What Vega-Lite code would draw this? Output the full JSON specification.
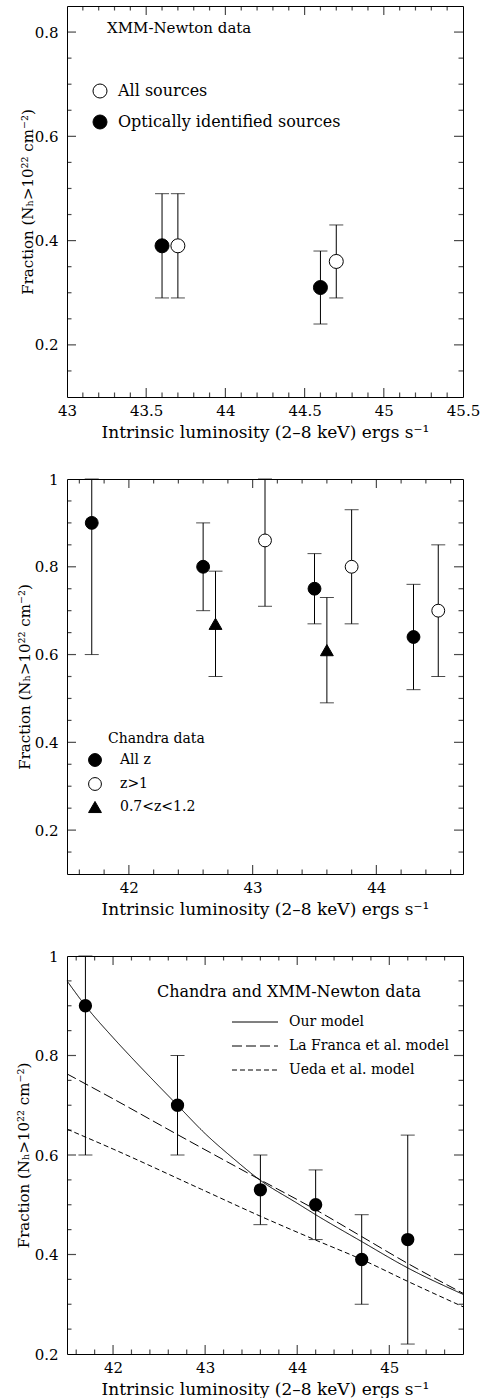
{
  "$schema": "https://vega.github.io/schema/vega-lite/v6.json",
  "padding": {"left": 15, "top": 5, "right": 5, "bottom": 0},
  "config": {
    "font": "DejaVu Serif",
    "view": {"stroke": "black", "strokeWidth": 1},
    "axis": {"domain": false, "ticks": false, "tickSize": 0, "grid": false, "labelColor": "black", "titleColor": "black", "labelFontSize": 15, "titleFontSize": 15, "titleFontWeight": "normal", "labelFlush": false, "labelOverlap": false, "labelBound": false, "format": "~g"},
    "legend": {"labelColor": "black", "padding": 0, "titlePadding": 0, "labelLimit": 400}
  },
  "datasets": {
    "p1": [
      {"L": 43.6, "F": 0.39, "lo": 0.29, "hi": 0.49, "sample": "Optically identified sources"},
      {"L": 44.6, "F": 0.31, "lo": 0.24, "hi": 0.38, "sample": "Optically identified sources"},
      {"L": 43.7, "F": 0.39, "lo": 0.29, "hi": 0.49, "sample": "All sources"},
      {"L": 44.7, "F": 0.36, "lo": 0.29, "hi": 0.43, "sample": "All sources"}
    ],
    "p2": [
      {"L": 41.7, "F": 0.90, "lo": 0.60, "hi": 1.00, "sel": "All z"},
      {"L": 42.6, "F": 0.80, "lo": 0.70, "hi": 0.90, "sel": "All z"},
      {"L": 43.5, "F": 0.75, "lo": 0.67, "hi": 0.83, "sel": "All z"},
      {"L": 44.3, "F": 0.64, "lo": 0.52, "hi": 0.76, "sel": "All z"},
      {"L": 43.1, "F": 0.86, "lo": 0.71, "hi": 1.00, "sel": "z>1"},
      {"L": 43.8, "F": 0.80, "lo": 0.67, "hi": 0.93, "sel": "z>1"},
      {"L": 44.5, "F": 0.70, "lo": 0.55, "hi": 0.85, "sel": "z>1"},
      {"L": 42.7, "F": 0.67, "lo": 0.55, "hi": 0.79, "sel": "0.7<z<1.2"},
      {"L": 43.6, "F": 0.61, "lo": 0.49, "hi": 0.73, "sel": "0.7<z<1.2"}
    ],
    "p3": [
      {"L": 41.7, "F": 0.90, "lo": 0.60, "hi": 1.00},
      {"L": 42.7, "F": 0.70, "lo": 0.60, "hi": 0.80},
      {"L": 43.6, "F": 0.53, "lo": 0.46, "hi": 0.60},
      {"L": 44.2, "F": 0.50, "lo": 0.43, "hi": 0.57},
      {"L": 44.7, "F": 0.39, "lo": 0.30, "hi": 0.48},
      {"L": 45.2, "F": 0.43, "lo": 0.22, "hi": 0.64}
    ],
    "curves": [
      {"L": 41.5, "F": 0.950, "model": "Our model"},
      {"L": 41.7, "F": 0.900, "model": "Our model"},
      {"L": 42.0, "F": 0.836, "model": "Our model"},
      {"L": 42.2, "F": 0.796, "model": "Our model"},
      {"L": 42.5, "F": 0.738, "model": "Our model"},
      {"L": 42.7, "F": 0.700, "model": "Our model"},
      {"L": 43.0, "F": 0.643, "model": "Our model"},
      {"L": 43.3, "F": 0.594, "model": "Our model"},
      {"L": 43.6, "F": 0.549, "model": "Our model"},
      {"L": 44.0, "F": 0.503, "model": "Our model"},
      {"L": 44.2, "F": 0.480, "model": "Our model"},
      {"L": 44.7, "F": 0.426, "model": "Our model"},
      {"L": 45.2, "F": 0.373, "model": "Our model"},
      {"L": 45.8, "F": 0.320, "model": "Our model"},
      {"L": 41.5, "F": 0.763, "model": "La Franca et al. model"},
      {"L": 42.0, "F": 0.713, "model": "La Franca et al. model"},
      {"L": 42.7, "F": 0.641, "model": "La Franca et al. model"},
      {"L": 43.6, "F": 0.550, "model": "La Franca et al. model"},
      {"L": 44.2, "F": 0.490, "model": "La Franca et al. model"},
      {"L": 44.7, "F": 0.436, "model": "La Franca et al. model"},
      {"L": 45.2, "F": 0.382, "model": "La Franca et al. model"},
      {"L": 45.8, "F": 0.322, "model": "La Franca et al. model"},
      {"L": 41.5, "F": 0.652, "model": "Ueda et al. model"},
      {"L": 42.0, "F": 0.612, "model": "Ueda et al. model"},
      {"L": 42.96, "F": 0.531, "model": "Ueda et al. model"},
      {"L": 43.6, "F": 0.477, "model": "Ueda et al. model"},
      {"L": 44.2, "F": 0.429, "model": "Ueda et al. model"},
      {"L": 44.7, "F": 0.390, "model": "Ueda et al. model"},
      {"L": 45.2, "F": 0.346, "model": "Ueda et al. model"},
      {"L": 45.8, "F": 0.295, "model": "Ueda et al. model"}
    ],
    "t1x": [
      {"v": 43.5, "kind": "major"}, {"v": 44, "kind": "major"}, {"v": 44.5, "kind": "major"}, {"v": 45, "kind": "major"},
      {"v": 43.1, "kind": "minor"}, {"v": 43.2, "kind": "minor"}, {"v": 43.3, "kind": "minor"}, {"v": 43.4, "kind": "minor"},
      {"v": 43.6, "kind": "minor"}, {"v": 43.7, "kind": "minor"}, {"v": 43.8, "kind": "minor"}, {"v": 43.9, "kind": "minor"},
      {"v": 44.1, "kind": "minor"}, {"v": 44.2, "kind": "minor"}, {"v": 44.3, "kind": "minor"}, {"v": 44.4, "kind": "minor"},
      {"v": 44.6, "kind": "minor"}, {"v": 44.7, "kind": "minor"}, {"v": 44.8, "kind": "minor"}, {"v": 44.9, "kind": "minor"},
      {"v": 45.1, "kind": "minor"}, {"v": 45.2, "kind": "minor"}, {"v": 45.3, "kind": "minor"}, {"v": 45.4, "kind": "minor"}
    ],
    "t1y": [
      {"v": 0.2, "kind": "major"}, {"v": 0.4, "kind": "major"}, {"v": 0.6, "kind": "major"}, {"v": 0.8, "kind": "major"},
      {"v": 0.15, "kind": "minor"}, {"v": 0.25, "kind": "minor"}, {"v": 0.3, "kind": "minor"}, {"v": 0.35, "kind": "minor"},
      {"v": 0.45, "kind": "minor"}, {"v": 0.5, "kind": "minor"}, {"v": 0.55, "kind": "minor"}, {"v": 0.65, "kind": "minor"},
      {"v": 0.7, "kind": "minor"}, {"v": 0.75, "kind": "minor"}
    ],
    "t2x": [
      {"v": 42, "kind": "major"}, {"v": 43, "kind": "major"}, {"v": 44, "kind": "major"},
      {"v": 41.6, "kind": "minor"}, {"v": 41.8, "kind": "minor"}, {"v": 42.2, "kind": "minor"}, {"v": 42.4, "kind": "minor"},
      {"v": 42.6, "kind": "minor"}, {"v": 42.8, "kind": "minor"}, {"v": 43.2, "kind": "minor"}, {"v": 43.4, "kind": "minor"},
      {"v": 43.6, "kind": "minor"}, {"v": 43.8, "kind": "minor"}, {"v": 44.2, "kind": "minor"}, {"v": 44.4, "kind": "minor"},
      {"v": 44.6, "kind": "minor"}
    ],
    "t2y": [
      {"v": 0.2, "kind": "major"}, {"v": 0.4, "kind": "major"}, {"v": 0.6, "kind": "major"}, {"v": 0.8, "kind": "major"},
      {"v": 0.15, "kind": "minor"}, {"v": 0.25, "kind": "minor"}, {"v": 0.3, "kind": "minor"}, {"v": 0.35, "kind": "minor"},
      {"v": 0.45, "kind": "minor"}, {"v": 0.5, "kind": "minor"}, {"v": 0.55, "kind": "minor"}, {"v": 0.65, "kind": "minor"},
      {"v": 0.7, "kind": "minor"}, {"v": 0.75, "kind": "minor"}, {"v": 0.85, "kind": "minor"}, {"v": 0.9, "kind": "minor"},
      {"v": 0.95, "kind": "minor"}
    ],
    "t3x": [
      {"v": 42, "kind": "major"}, {"v": 43, "kind": "major"}, {"v": 44, "kind": "major"}, {"v": 45, "kind": "major"},
      {"v": 41.6, "kind": "minor"}, {"v": 41.8, "kind": "minor"}, {"v": 42.2, "kind": "minor"}, {"v": 42.4, "kind": "minor"},
      {"v": 42.6, "kind": "minor"}, {"v": 42.8, "kind": "minor"}, {"v": 43.2, "kind": "minor"}, {"v": 43.4, "kind": "minor"},
      {"v": 43.6, "kind": "minor"}, {"v": 43.8, "kind": "minor"}, {"v": 44.2, "kind": "minor"}, {"v": 44.4, "kind": "minor"},
      {"v": 44.6, "kind": "minor"}, {"v": 44.8, "kind": "minor"}, {"v": 45.2, "kind": "minor"}, {"v": 45.4, "kind": "minor"},
      {"v": 45.6, "kind": "minor"}
    ],
    "t3y": [
      {"v": 0.4, "kind": "major"}, {"v": 0.6, "kind": "major"}, {"v": 0.8, "kind": "major"},
      {"v": 0.25, "kind": "minor"}, {"v": 0.3, "kind": "minor"}, {"v": 0.35, "kind": "minor"},
      {"v": 0.45, "kind": "minor"}, {"v": 0.5, "kind": "minor"}, {"v": 0.55, "kind": "minor"}, {"v": 0.65, "kind": "minor"},
      {"v": 0.7, "kind": "minor"}, {"v": 0.75, "kind": "minor"}, {"v": 0.85, "kind": "minor"}, {"v": 0.9, "kind": "minor"},
      {"v": 0.95, "kind": "minor"}
    ]
  },
  "columns": 1,
  "spacing": 30,
  "resolve": {"scale": {"fill": "independent", "shape": "independent", "stroke": "independent", "strokeDash": "independent"}},
  "concat": [
    {
      "width": 396, "height": 391,
      "data": {"name": "p1"},
      "layer": [
        {
          "mark": {"type": "rule", "color": "black", "strokeWidth": 1},
          "encoding": {
            "x": {"field": "L", "type": "quantitative", "scale": {"domain": [43, 45.5], "nice": false, "zero": false},
              "axis": {"orient": "bottom", "title": "Intrinsic luminosity (2–8 keV) ergs s⁻¹", "titleFontSize": 17,
                "values": [43, 43.5, 44, 44.5, 45, 45.5], "labelPadding": 6, "titleY": 40, "titleBaseline": "alphabetic"}},
            "y": {"field": "lo", "type": "quantitative", "scale": {"domain": [0.1, 0.85], "nice": false, "zero": false},
              "axis": {"orient": "left", "title": "Fraction (Nₕ>10²² cm⁻²)",
                "values": [0.2, 0.4, 0.6, 0.8], "labelPadding": 9, "minExtent": 30, "maxExtent": 30, "titlePadding": 2}},
            "y2": {"field": "hi"}
          }
        },
        {
          "mark": {"type": "tick", "orient": "horizontal", "size": 14, "thickness": 1, "color": "black"},
          "encoding": {"x": {"field": "L", "type": "quantitative", "axis": null}, "y": {"field": "lo", "type": "quantitative", "axis": null}}
        },
        {
          "mark": {"type": "tick", "orient": "horizontal", "size": 14, "thickness": 1, "color": "black"},
          "encoding": {"x": {"field": "L", "type": "quantitative", "axis": null}, "y": {"field": "hi", "type": "quantitative", "axis": null}}
        },
        {"data": {"name": "t1x"}, "transform": [{"filter": "datum.kind == 'major'"}], "mark": {"type": "tick", "orient": "vertical", "size": 9, "thickness": 1.2, "color": "black", "yOffset": -4.5},
          "encoding": {"x": {"field": "v", "type": "quantitative", "axis": null}, "y": {"datum": 0.1, "type": "quantitative", "axis": null}}},
        {"data": {"name": "t1x"}, "transform": [{"filter": "datum.kind == 'minor'"}], "mark": {"type": "tick", "orient": "vertical", "size": 4.5, "thickness": 1.2, "color": "black", "yOffset": -2.25},
          "encoding": {"x": {"field": "v", "type": "quantitative", "axis": null}, "y": {"datum": 0.1, "type": "quantitative", "axis": null}}},
        {"data": {"name": "t1x"}, "transform": [{"filter": "datum.kind == 'major'"}], "mark": {"type": "tick", "orient": "vertical", "size": 9, "thickness": 1.2, "color": "black", "yOffset": 4.5},
          "encoding": {"x": {"field": "v", "type": "quantitative", "axis": null}, "y": {"datum": 0.85, "type": "quantitative", "axis": null}}},
        {"data": {"name": "t1x"}, "transform": [{"filter": "datum.kind == 'minor'"}], "mark": {"type": "tick", "orient": "vertical", "size": 4.5, "thickness": 1.2, "color": "black", "yOffset": 2.25},
          "encoding": {"x": {"field": "v", "type": "quantitative", "axis": null}, "y": {"datum": 0.85, "type": "quantitative", "axis": null}}},
        {"data": {"name": "t1y"}, "transform": [{"filter": "datum.kind == 'major'"}], "mark": {"type": "tick", "orient": "horizontal", "size": 9, "thickness": 1.2, "color": "black", "xOffset": 4.5},
          "encoding": {"y": {"field": "v", "type": "quantitative", "axis": null}, "x": {"datum": 43, "type": "quantitative", "axis": null}}},
        {"data": {"name": "t1y"}, "transform": [{"filter": "datum.kind == 'minor'"}], "mark": {"type": "tick", "orient": "horizontal", "size": 4.5, "thickness": 1.2, "color": "black", "xOffset": 2.25},
          "encoding": {"y": {"field": "v", "type": "quantitative", "axis": null}, "x": {"datum": 43, "type": "quantitative", "axis": null}}},
        {"data": {"name": "t1y"}, "transform": [{"filter": "datum.kind == 'major'"}], "mark": {"type": "tick", "orient": "horizontal", "size": 9, "thickness": 1.2, "color": "black", "xOffset": -4.5},
          "encoding": {"y": {"field": "v", "type": "quantitative", "axis": null}, "x": {"datum": 45.5, "type": "quantitative", "axis": null}}},
        {"data": {"name": "t1y"}, "transform": [{"filter": "datum.kind == 'minor'"}], "mark": {"type": "tick", "orient": "horizontal", "size": 4.5, "thickness": 1.2, "color": "black", "xOffset": -2.25},
          "encoding": {"y": {"field": "v", "type": "quantitative", "axis": null}, "x": {"datum": 45.5, "type": "quantitative", "axis": null}}},
        {
          "mark": {"type": "point", "shape": "circle", "filled": true, "size": 196, "stroke": "black", "strokeWidth": 1, "opacity": 1},
          "encoding": {
            "x": {"field": "L", "type": "quantitative", "axis": null},
            "y": {"field": "F", "type": "quantitative", "axis": null},
            "fill": {"field": "sample", "type": "nominal",
              "scale": {"domain": ["All sources", "Optically identified sources"], "range": ["white", "black"]},
              "legend": {"orient": "none", "legendX": 25, "legendY": 77, "title": null, "symbolSize": 196, "symbolType": "circle", "symbolStrokeColor": "black", "symbolStrokeWidth": 1, "labelFontSize": 16, "labelOffset": 10, "rowPadding": 13}}
          }
        },
        {
          "data": {"values": [{"label": "XMM-Newton data"}]},
          "mark": {"type": "text", "align": "left", "baseline": "middle", "fontSize": 15, "color": "black"},
          "encoding": {
            "x": {"datum": 43.2525, "type": "quantitative", "axis": null},
            "y": {"datum": 0.8077, "type": "quantitative", "axis": null},
            "text": {"field": "label"}
          }
        }
      ],
      "resolve": {"axis": {"x": "independent", "y": "independent"}}
    },
    {
      "width": 396, "height": 395,
      "data": {"name": "p2"},
      "layer": [
        {
          "mark": {"type": "rule", "color": "black", "strokeWidth": 1},
          "encoding": {
            "x": {"field": "L", "type": "quantitative", "scale": {"domain": [41.5, 44.7], "nice": false, "zero": false},
              "axis": {"orient": "bottom", "title": "Intrinsic luminosity (2–8 keV) ergs s⁻¹", "titleFontSize": 17,
                "values": [42, 43, 44], "labelPadding": 6, "titleY": 40, "titleBaseline": "alphabetic"}},
            "y": {"field": "lo", "type": "quantitative", "scale": {"domain": [0.1, 1], "nice": false, "zero": false},
              "axis": {"orient": "left", "title": "Fraction (Nₕ>10²² cm⁻²)",
                "values": [0.2, 0.4, 0.6, 0.8, 1], "labelPadding": 9, "minExtent": 33, "maxExtent": 33, "titlePadding": 2}},
            "y2": {"field": "hi"}
          }
        },
        {
          "mark": {"type": "tick", "orient": "horizontal", "size": 14, "thickness": 1, "color": "black"},
          "encoding": {"x": {"field": "L", "type": "quantitative", "axis": null}, "y": {"field": "lo", "type": "quantitative", "axis": null}}
        },
        {
          "mark": {"type": "tick", "orient": "horizontal", "size": 14, "thickness": 1, "color": "black"},
          "encoding": {"x": {"field": "L", "type": "quantitative", "axis": null}, "y": {"field": "hi", "type": "quantitative", "axis": null}}
        },
        {"data": {"name": "t2x"}, "transform": [{"filter": "datum.kind == 'major'"}], "mark": {"type": "tick", "orient": "vertical", "size": 9, "thickness": 1.2, "color": "black", "yOffset": -4.5},
          "encoding": {"x": {"field": "v", "type": "quantitative", "axis": null}, "y": {"datum": 0.1, "type": "quantitative", "axis": null}}},
        {"data": {"name": "t2x"}, "transform": [{"filter": "datum.kind == 'minor'"}], "mark": {"type": "tick", "orient": "vertical", "size": 4.5, "thickness": 1.2, "color": "black", "yOffset": -2.25},
          "encoding": {"x": {"field": "v", "type": "quantitative", "axis": null}, "y": {"datum": 0.1, "type": "quantitative", "axis": null}}},
        {"data": {"name": "t2x"}, "transform": [{"filter": "datum.kind == 'major'"}], "mark": {"type": "tick", "orient": "vertical", "size": 9, "thickness": 1.2, "color": "black", "yOffset": 4.5},
          "encoding": {"x": {"field": "v", "type": "quantitative", "axis": null}, "y": {"datum": 1, "type": "quantitative", "axis": null}}},
        {"data": {"name": "t2x"}, "transform": [{"filter": "datum.kind == 'minor'"}], "mark": {"type": "tick", "orient": "vertical", "size": 4.5, "thickness": 1.2, "color": "black", "yOffset": 2.25},
          "encoding": {"x": {"field": "v", "type": "quantitative", "axis": null}, "y": {"datum": 1, "type": "quantitative", "axis": null}}},
        {"data": {"name": "t2y"}, "transform": [{"filter": "datum.kind == 'major'"}], "mark": {"type": "tick", "orient": "horizontal", "size": 9, "thickness": 1.2, "color": "black", "xOffset": 4.5},
          "encoding": {"y": {"field": "v", "type": "quantitative", "axis": null}, "x": {"datum": 41.5, "type": "quantitative", "axis": null}}},
        {"data": {"name": "t2y"}, "transform": [{"filter": "datum.kind == 'minor'"}], "mark": {"type": "tick", "orient": "horizontal", "size": 4.5, "thickness": 1.2, "color": "black", "xOffset": 2.25},
          "encoding": {"y": {"field": "v", "type": "quantitative", "axis": null}, "x": {"datum": 41.5, "type": "quantitative", "axis": null}}},
        {"data": {"name": "t2y"}, "transform": [{"filter": "datum.kind == 'major'"}], "mark": {"type": "tick", "orient": "horizontal", "size": 9, "thickness": 1.2, "color": "black", "xOffset": -4.5},
          "encoding": {"y": {"field": "v", "type": "quantitative", "axis": null}, "x": {"datum": 44.7, "type": "quantitative", "axis": null}}},
        {"data": {"name": "t2y"}, "transform": [{"filter": "datum.kind == 'minor'"}], "mark": {"type": "tick", "orient": "horizontal", "size": 4.5, "thickness": 1.2, "color": "black", "xOffset": -2.25},
          "encoding": {"y": {"field": "v", "type": "quantitative", "axis": null}, "x": {"datum": 44.7, "type": "quantitative", "axis": null}}},
        {
          "mark": {"type": "point", "filled": true, "size": 165, "strokeWidth": 1, "opacity": 1},
          "encoding": {
            "x": {"field": "L", "type": "quantitative", "axis": null},
            "y": {"field": "F", "type": "quantitative", "axis": null},
            "shape": {"field": "sel", "type": "nominal",
              "scale": {"domain": ["All z", "z>1", "0.7<z<1.2"], "range": ["circle", "circle", "triangle-up"]},
              "legend": {"orient": "none", "legendX": 21, "legendY": 274, "title": null, "symbolSize": 165, "symbolStrokeWidth": 1, "labelFontSize": 14, "labelOffset": 18, "rowPadding": 6}},
            "fill": {"field": "sel", "type": "nominal",
              "scale": {"domain": ["All z", "z>1", "0.7<z<1.2"], "range": ["black", "white", "black"]},
              "legend": {"orient": "none", "legendX": 21, "legendY": 274, "title": null, "symbolSize": 165, "symbolStrokeWidth": 1, "labelFontSize": 14, "labelOffset": 18, "rowPadding": 6}},
            "stroke": {"field": "sel", "type": "nominal",
              "scale": {"domain": ["All z", "z>1", "0.7<z<1.2"], "range": ["black", "black", "black"]},
              "legend": {"orient": "none", "legendX": 21, "legendY": 274, "title": null, "symbolSize": 165, "symbolStrokeWidth": 1, "labelFontSize": 14, "labelOffset": 18, "rowPadding": 6}}
          }
        },
        {
          "data": {"values": [{"label": "Chandra data"}]},
          "mark": {"type": "text", "align": "left", "baseline": "middle", "fontSize": 14, "color": "black"},
          "encoding": {
            "x": {"datum": 41.831, "type": "quantitative", "axis": null},
            "y": {"datum": 0.408, "type": "quantitative", "axis": null},
            "text": {"field": "label"}
          }
        }
      ],
      "resolve": {"axis": {"x": "independent", "y": "independent"}}
    },
    {
      "width": 396, "height": 398,
      "data": {"name": "p3"},
      "layer": [
        {
          "mark": {"type": "rule", "color": "black", "strokeWidth": 1},
          "encoding": {
            "x": {"field": "L", "type": "quantitative", "scale": {"domain": [41.5, 45.8], "nice": false, "zero": false},
              "axis": {"orient": "bottom", "title": "Intrinsic luminosity (2–8 keV) ergs s⁻¹", "titleFontSize": 17,
                "values": [42, 43, 44, 45], "labelPadding": 6, "titleY": 40, "titleBaseline": "alphabetic"}},
            "y": {"field": "lo", "type": "quantitative", "scale": {"domain": [0.2, 1], "nice": false, "zero": false},
              "axis": {"orient": "left", "title": "Fraction (Nₕ>10²² cm⁻²)",
                "values": [0.2, 0.4, 0.6, 0.8, 1], "labelPadding": 9, "minExtent": 34, "maxExtent": 34, "titlePadding": 2}},
            "y2": {"field": "hi"}
          }
        },
        {
          "mark": {"type": "tick", "orient": "horizontal", "size": 14, "thickness": 1, "color": "black"},
          "encoding": {"x": {"field": "L", "type": "quantitative", "axis": null}, "y": {"field": "lo", "type": "quantitative", "axis": null}}
        },
        {
          "mark": {"type": "tick", "orient": "horizontal", "size": 14, "thickness": 1, "color": "black"},
          "encoding": {"x": {"field": "L", "type": "quantitative", "axis": null}, "y": {"field": "hi", "type": "quantitative", "axis": null}}
        },
        {"data": {"name": "t3x"}, "transform": [{"filter": "datum.kind == 'major'"}], "mark": {"type": "tick", "orient": "vertical", "size": 9, "thickness": 1.2, "color": "black", "yOffset": -4.5},
          "encoding": {"x": {"field": "v", "type": "quantitative", "axis": null}, "y": {"datum": 0.2, "type": "quantitative", "axis": null}}},
        {"data": {"name": "t3x"}, "transform": [{"filter": "datum.kind == 'minor'"}], "mark": {"type": "tick", "orient": "vertical", "size": 4.5, "thickness": 1.2, "color": "black", "yOffset": -2.25},
          "encoding": {"x": {"field": "v", "type": "quantitative", "axis": null}, "y": {"datum": 0.2, "type": "quantitative", "axis": null}}},
        {"data": {"name": "t3x"}, "transform": [{"filter": "datum.kind == 'major'"}], "mark": {"type": "tick", "orient": "vertical", "size": 9, "thickness": 1.2, "color": "black", "yOffset": 4.5},
          "encoding": {"x": {"field": "v", "type": "quantitative", "axis": null}, "y": {"datum": 1, "type": "quantitative", "axis": null}}},
        {"data": {"name": "t3x"}, "transform": [{"filter": "datum.kind == 'minor'"}], "mark": {"type": "tick", "orient": "vertical", "size": 4.5, "thickness": 1.2, "color": "black", "yOffset": 2.25},
          "encoding": {"x": {"field": "v", "type": "quantitative", "axis": null}, "y": {"datum": 1, "type": "quantitative", "axis": null}}},
        {"data": {"name": "t3y"}, "transform": [{"filter": "datum.kind == 'major'"}], "mark": {"type": "tick", "orient": "horizontal", "size": 9, "thickness": 1.2, "color": "black", "xOffset": 4.5},
          "encoding": {"y": {"field": "v", "type": "quantitative", "axis": null}, "x": {"datum": 41.5, "type": "quantitative", "axis": null}}},
        {"data": {"name": "t3y"}, "transform": [{"filter": "datum.kind == 'minor'"}], "mark": {"type": "tick", "orient": "horizontal", "size": 4.5, "thickness": 1.2, "color": "black", "xOffset": 2.25},
          "encoding": {"y": {"field": "v", "type": "quantitative", "axis": null}, "x": {"datum": 41.5, "type": "quantitative", "axis": null}}},
        {"data": {"name": "t3y"}, "transform": [{"filter": "datum.kind == 'major'"}], "mark": {"type": "tick", "orient": "horizontal", "size": 9, "thickness": 1.2, "color": "black", "xOffset": -4.5},
          "encoding": {"y": {"field": "v", "type": "quantitative", "axis": null}, "x": {"datum": 45.8, "type": "quantitative", "axis": null}}},
        {"data": {"name": "t3y"}, "transform": [{"filter": "datum.kind == 'minor'"}], "mark": {"type": "tick", "orient": "horizontal", "size": 4.5, "thickness": 1.2, "color": "black", "xOffset": -2.25},
          "encoding": {"y": {"field": "v", "type": "quantitative", "axis": null}, "x": {"datum": 45.8, "type": "quantitative", "axis": null}}},
        {
          "data": {"name": "curves"},
          "mark": {"type": "line", "color": "black", "strokeWidth": 1, "interpolate": "monotone"},
          "encoding": {
            "x": {"field": "L", "type": "quantitative", "axis": null},
            "y": {"field": "F", "type": "quantitative", "axis": null},
            "strokeDash": {"field": "model", "type": "nominal",
              "scale": {"domain": ["Our model", "La Franca et al. model", "Ueda et al. model"], "range": [[1, 0], [10, 4], [5, 3]]},
              "legend": {"orient": "none", "legendX": 178, "legendY": 56, "title": null, "symbolType": "M-2.5,0H2.5", "symbolSize": 339, "symbolStrokeColor": "black", "symbolStrokeWidth": 1, "labelFontSize": 14, "labelOffset": 24, "rowPadding": 7}}
          }
        },
        {
          "mark": {"type": "point", "shape": "circle", "filled": true, "size": 177, "color": "black", "opacity": 1},
          "encoding": {
            "x": {"field": "L", "type": "quantitative", "axis": null},
            "y": {"field": "F", "type": "quantitative", "axis": null}
          }
        },
        {
          "data": {"values": [{"label": "Chandra and XMM-Newton data"}]},
          "mark": {"type": "text", "align": "left", "baseline": "middle", "fontSize": 16, "color": "black"},
          "encoding": {
            "x": {"datum": 42.477, "type": "quantitative", "axis": null},
            "y": {"datum": 0.928, "type": "quantitative", "axis": null},
            "text": {"field": "label"}
          }
        }
      ],
      "resolve": {"axis": {"x": "independent", "y": "independent"}}
    }
  ]
}
